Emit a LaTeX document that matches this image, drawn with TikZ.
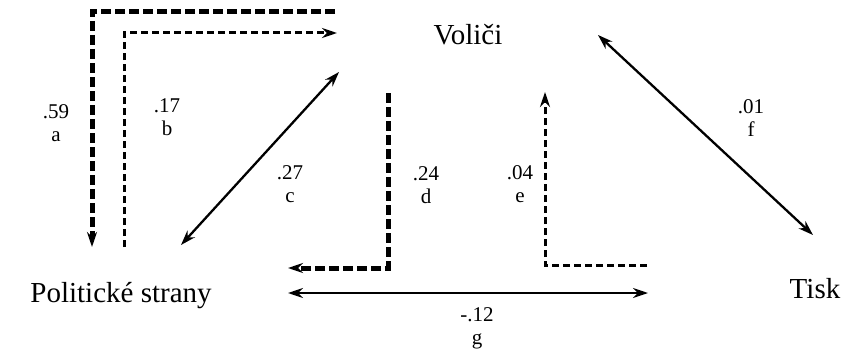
\documentclass[tikz,border=0pt]{standalone}
\usepackage{fontspec}
\setmainfont{Liberation Serif}
\usetikzlibrary{arrows.meta}
\tikzset{
  actor/.style={font=\fontsize{29}{30}\selectfont, inner sep=0pt, anchor=base},
  coef/.style={font=\fontsize{21}{23}\selectfont, align=center, inner sep=0pt},
  tip/.style={-{Stealth[length=15pt,width=10pt]}},
  heavydash/.style={tip, line width=5pt, dash pattern=on 10pt off 4pt},
  lightdash/.style={tip, line width=3pt, dash pattern=on 7pt off 4pt},
  link/.style={line width=2.3pt,
    {Stealth[length=15pt,width=10pt]}-{Stealth[length=15pt,width=10pt]}},
}
\begin{document}
\begin{tikzpicture}[x=1pt, y=-1pt]
  \useasboundingbox (0,0) rectangle (858,353);

  \node[actor] (volici) at (468,45) {Voliči};
  \node[actor] (strany) at (121,302) {Politické strany};
  \node[actor] (tisk) at (815,298) {Tisk};

  \coordinate (aS) at (335,12);  \coordinate (aE) at (92,247);
  \coordinate (bS) at (124,247); \coordinate (bE) at (337,33);
  \coordinate (cS) at (181,245); \coordinate (cE) at (339,72);
  \coordinate (dS) at (388,93);  \coordinate (dE) at (288,268);
  \coordinate (eS) at (647,265); \coordinate (eE) at (545,92);
  \coordinate (fS) at (598,35);  \coordinate (fE) at (813,235);
  \coordinate (gS) at (288,293); \coordinate (gE) at (648,293);

  \draw[heavydash] (aS) -| (aE);
  \draw[lightdash] (bS) |- (bE);
  \draw[link] (cS) -- (cE);
  \draw[heavydash] (dS) |- (dE);
  \draw[lightdash] (eS) -| (eE);
  \draw[link] (fS) -- (fE);
  \draw[link] (gS) -- (gE);

  \node[coef] (la) at (56,123) {.59\\a};
  \node[coef] (lb) at (167,117) {.17\\b};
  \node[coef] (lc) at (290,184) {.27\\c};
  \node[coef] (ld) at (426,185) {.24\\d};
  \node[coef] (le) at (520,184) {.04\\e};
  \node[coef] (lf) at (751,118) {.01\\f};
  \node[coef] (lg) at (477,328) {-.12\\g};
\end{tikzpicture}
\end{document}
